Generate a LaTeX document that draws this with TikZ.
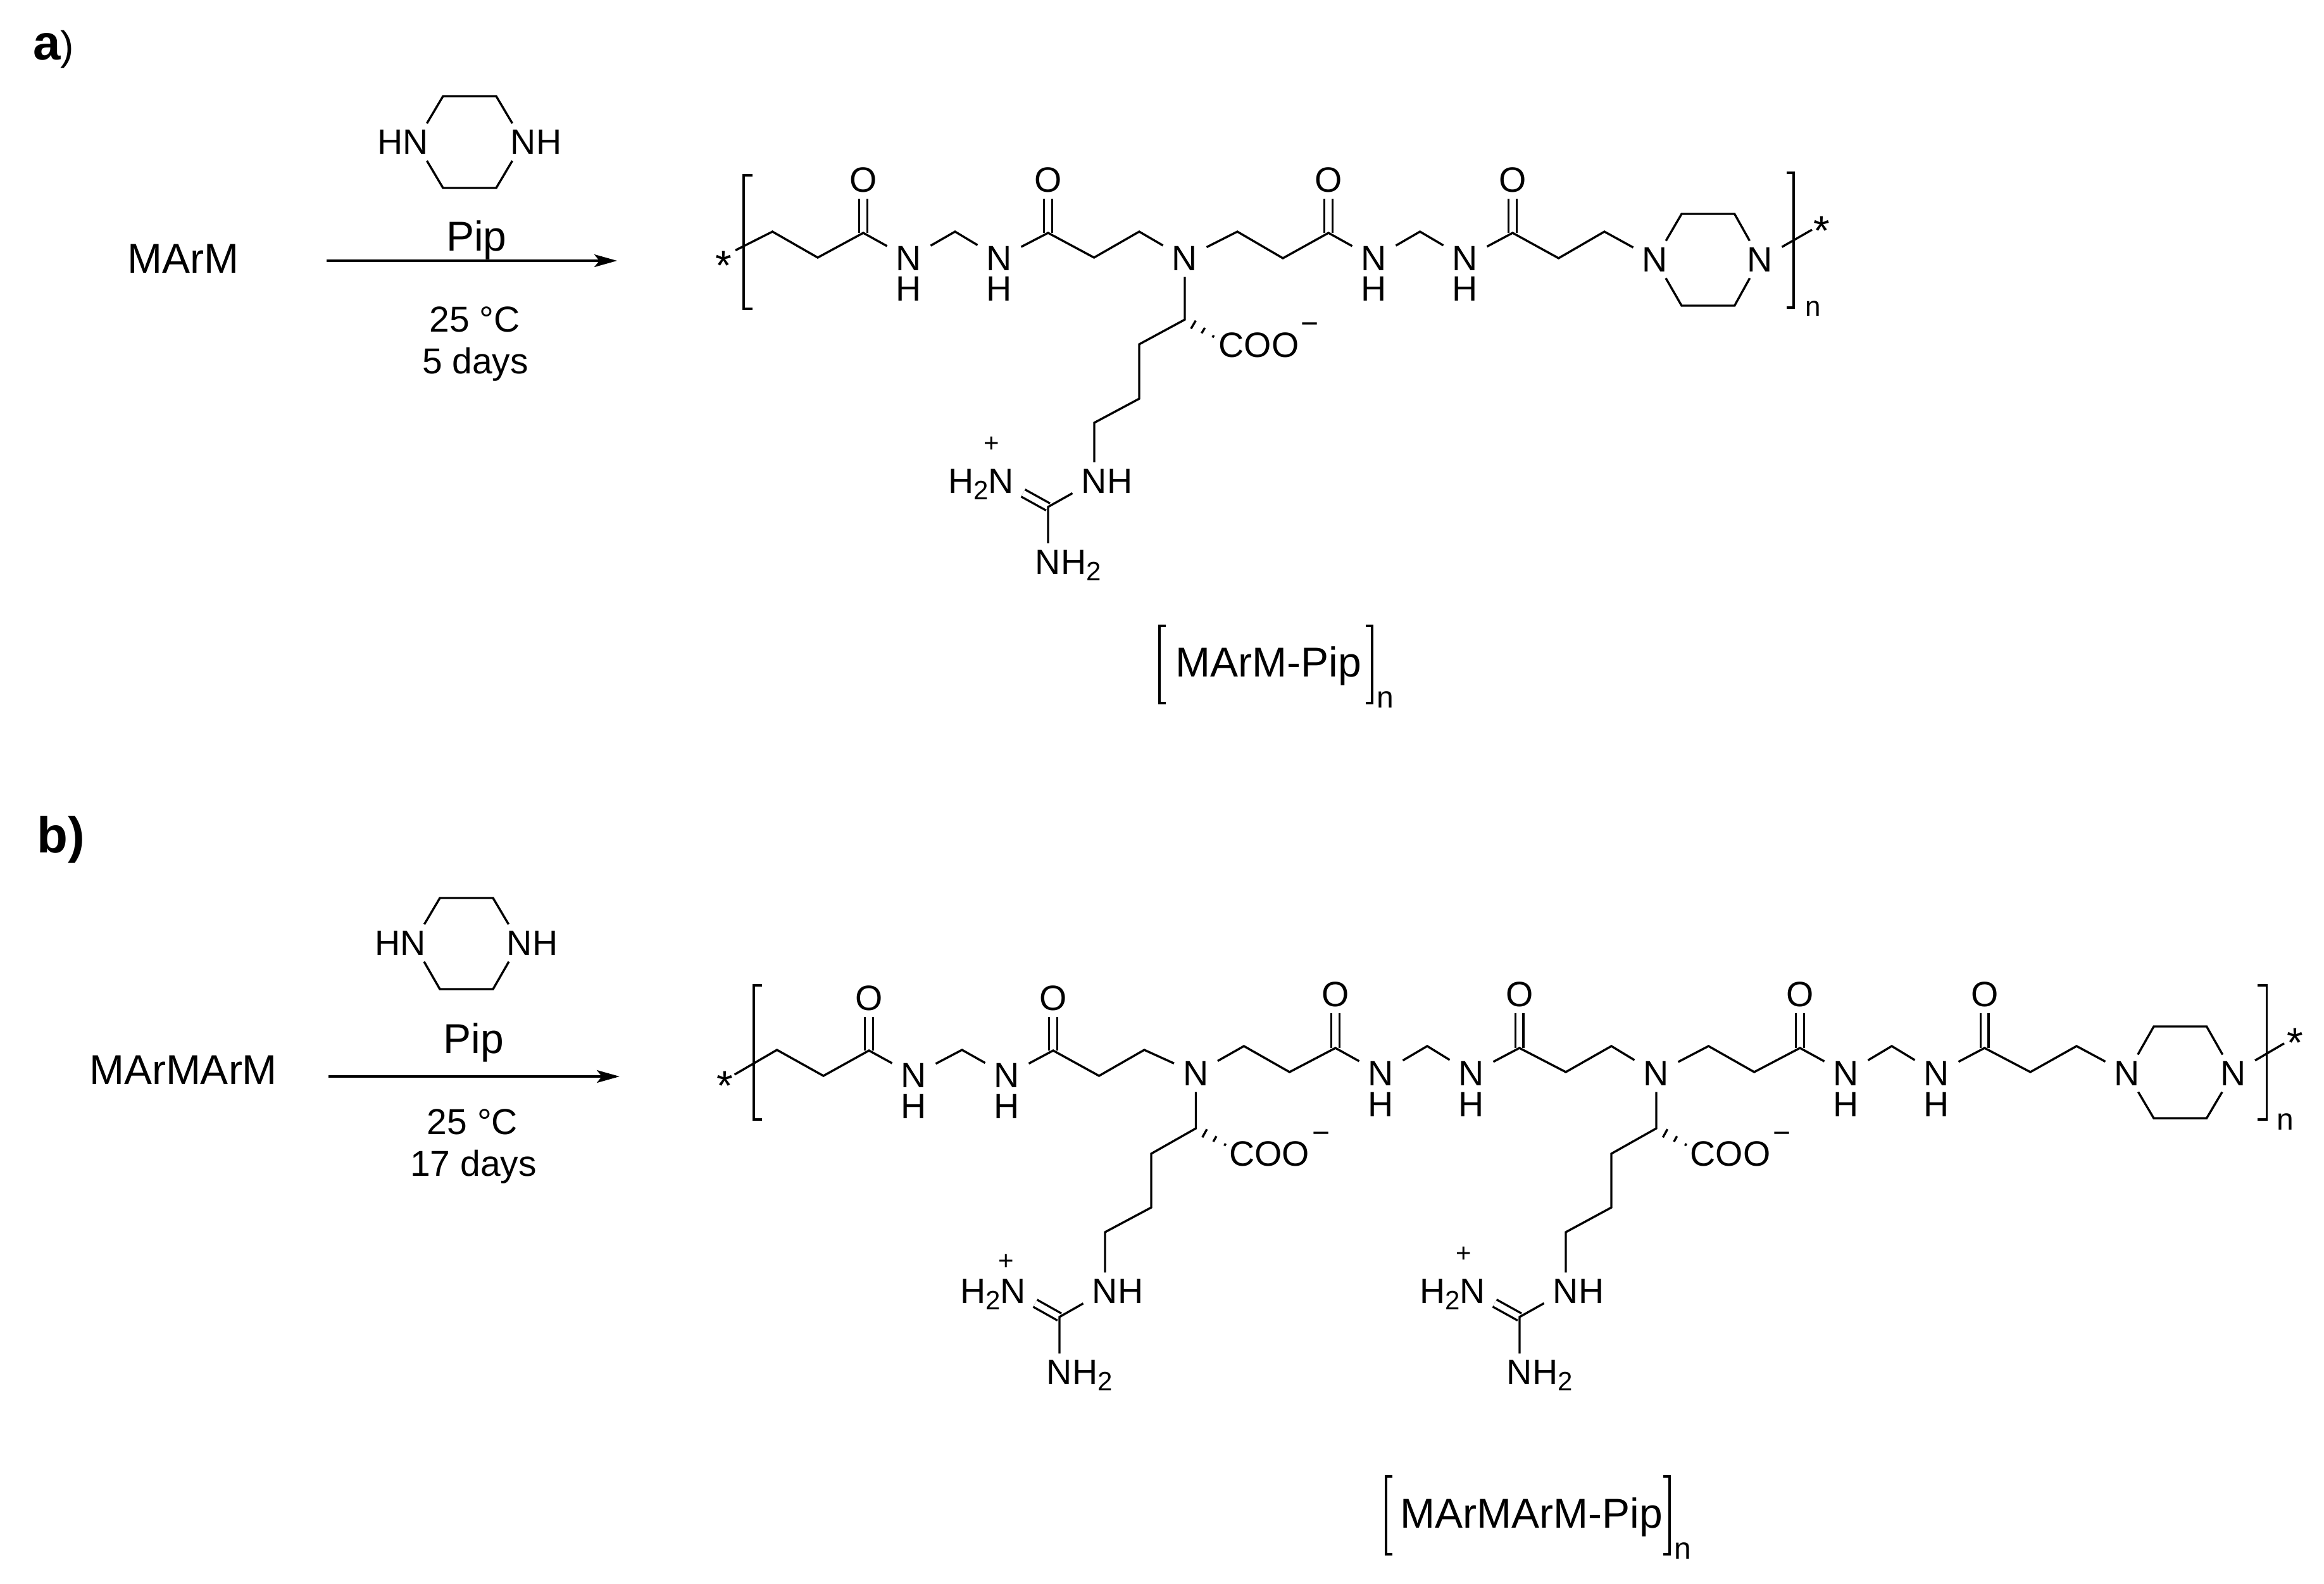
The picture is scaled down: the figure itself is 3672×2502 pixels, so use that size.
\documentclass[tikz,border=0pt]{standalone}
\usepackage{fontspec}
\setmainfont{Liberation Sans}
\usetikzlibrary{arrows.meta,calc}
\newcommand{\fsz}[1]{\fontsize{#1}{#1}\selectfont}
\newcommand{\subtwo}{\raisebox{-5pt}{\fsz{21}2}}
\newcommand{\Nhh}{N\smash{\rlap{H\subtwo}}}
\newcommand{\hhN}{\smash{\llap{H\subtwo}}N}
\newcommand{\Nh}{N\rlap{H}}
\newcommand{\hN}{\llap{H}N}
\newcommand{\hashbond}[2]{\foreach \hp/\hl in {.25/3.7pt,.54/2.5pt,.83/1pt}{\coordinate (hm) at ($(#1)!\hp!(#2)$); \draw[bond] ($(hm)!\hl!90:(#2)$) -- ($(hm)!\hl!-90:(#2)$);}}
\tikzset{
  x=0.5pt,y=-0.5pt,
  bond/.style={line width=1.7pt,line join=miter},
  dbond/.style={line width=1.7pt,double,double distance=4.6pt},
  brk/.style={line width=1.7pt},
  capbrk/.style={line width=2.1pt},
  atom/.style={font=\fsz{27.8},inner xsep=7pt,inner ysep=5pt},
  lbl/.style={inner sep=0pt,anchor=base},
  mainlbl/.style={lbl,font=\fsz{33}},
  condlbl/.style={lbl,font=\fsz{28.5}},
  captxt/.style={lbl,font=\fsz{33}},
  idxlbl/.style={lbl,font=\fsz{22}},
  starlbl/.style={lbl,font=\fsz{33}},
  plusc/.style={lbl,font=\fsz{21}},
  minusc/.style={lbl,font=\fsz{24}},
  coolbl/.style={font=\fsz{27.8},inner sep=0pt},
  rxn/.style={line width=1.7pt,-{Stealth[length=18pt,width=10pt,inset=4pt]}},
}
\begin{document}
\begin{tikzpicture}
\useasboundingbox (0,0) rectangle (3672,2502);
\fill[white] (0,0) rectangle (3672,2502);
% ---------- panel labels
\node[lbl,anchor=base west] (la) at (52,94) {{\fsz{39}\bfseries a}{\fsz{32})}};
\node[lbl,anchor=base west] (lb) at (58,1347) {\fsz{40}\bfseries b)};
% ---------- reaction a
\node[mainlbl] (marm) at (289,431) {MArM};
\node[atom] (pa1) at (657,224.5) {\hN};
\node[atom] (pa2) at (827,224.5) {\Nh};
\coordinate (pat1) at (700,152); \coordinate (pat2) at (784,152);
\coordinate (pab1) at (700,297); \coordinate (pab2) at (784,297);
\draw[bond] (pa1) -- (pat1) -- (pat2) -- (pa2);
\draw[bond] (pa1) -- (pab1) -- (pab2) -- (pa2);
\node[mainlbl] (pipa) at (753,396) {Pip};
\coordinate (ra1) at (516,412); \coordinate (ra2) at (975,412);
\draw[rxn] (ra1) -- (ra2);
\node[condlbl] (ca1) at (750,524.5) {25 °C};
\node[condlbl] (ca2) at (751,590) {5 days};
% ---------- polymer a
\node[starlbl] (sa1) at (1143,442) {*};
\draw[brk] (1189,277) -- (1175,277) -- (1175,488) -- (1189,488);
\coordinate (as) at (1162,395.5);
\coordinate (a1) at (1220.5,366); \coordinate (a2) at (1292,407); \coordinate (a3) at (1364,368);
\node[atom] (ao1) at (1364,284) {O};
\node[atom] (an1) at (1436,408) {N};
\node[atom] (ah1) at (1436,456) {H};
\coordinate (a4) at (1509,366);
\node[atom] (an2) at (1579,408) {N};
\node[atom] (ah2) at (1579,456) {H};
\coordinate (a5) at (1656,368);
\node[atom] (ao2) at (1656,284) {O};
\coordinate (a6) at (1728.6,407); \coordinate (a7) at (1800,366);
\node[atom] (an3) at (1872,408) {N};
\coordinate (a8) at (1955,366); \coordinate (a9) at (2027,408); \coordinate (a10) at (2099,368);
\node[atom] (ao3) at (2099,284) {O};
\node[atom] (an4) at (2171,408) {N};
\node[atom] (ah4) at (2171,456) {H};
\coordinate (a11) at (2243.6,366);
\node[atom] (an5) at (2315,408) {N};
\node[atom] (ah5) at (2315,456) {H};
\coordinate (a12) at (2390,368);
\node[atom] (ao4) at (2390,284) {O};
\coordinate (a13) at (2462.6,408); \coordinate (a14) at (2535,366);
\node[atom] (an6) at (2615,410) {N};
\coordinate (ar1) at (2657,338); \coordinate (ar2) at (2740.6,338);
\coordinate (ar3) at (2740.6,483); \coordinate (ar4) at (2657,483);
\node[atom] (an7) at (2781,410) {N};
\coordinate (ae) at (2863,363);
\node[starlbl] (sa2) at (2878,387) {*};
\draw[brk] (2823,273) -- (2834,273) -- (2834,486) -- (2823,486);
\node[idxlbl] (na) at (2864.5,499) {n};
\foreach \cc/\oo in {a3/ao1,a5/ao2,a10/ao3,a12/ao4}{\draw[dbond] (\cc) -- (\oo);}
\draw[bond] (as) -- (a1) -- (a2) -- (a3) -- (an1) -- (a4) -- (an2) -- (a5) -- (a6) -- (a7) -- (an3) -- (a8) -- (a9) -- (a10) -- (an4) -- (a11) -- (an5) -- (a12) -- (a13) -- (a14) -- (an6);
\draw[bond] (an6) -- (ar1) -- (ar2) -- (an7);
\draw[bond] (an6) -- (ar4) -- (ar3) -- (an7);
\draw[bond] (an7) -- (ae);
% side chain a
\coordinate (as1) at (1872,505); \coordinate (as2) at (1800,544); \coordinate (as3) at (1800,630); \coordinate (as4) at (1729,668);
\node[atom] (ag1) at (1729,760) {\Nh};
\coordinate (agc) at (1656,801);
\node[atom] (ag2) at (1582,760) {\hhN};
\node[atom] (ag3) at (1656,888) {\Nhh};
\node[plusc] (pla) at (1567,714) {+};
\node[coolbl] (cooa) at (1989,545) {COO};
\node[minusc] (mia) at (2069,527) {−};
\coordinate (awa) at (1926,537);
\hashbond{as1}{awa}
\draw[dbond] (agc) -- (ag2);
\draw[bond] (an3) -- (as1) -- (as2) -- (as3) -- (as4) -- (ag1) -- (agc) -- (ag3);
% caption a
\draw[capbrk] (1842,989) -- (1832,989) -- (1832,1111) -- (1842,1111);
\node[captxt] (capa) at (2004.5,1069) {MArM-Pip};
\draw[capbrk] (2158,989) -- (2168,989) -- (2168,1111) -- (2158,1111);
\node[lbl,font=\fsz{24}] (nca) at (2188.5,1118) {n};
% ---------- reaction b
\node[mainlbl] (marm2) at (289.5,1713) {MArMArM};
\node[atom] (pb1) at (653,1490) {\hN};
\node[atom] (pb2) at (821,1490) {\Nh};
\coordinate (pbt1) at (695,1419); \coordinate (pbt2) at (779,1419);
\coordinate (pbb1) at (695,1563); \coordinate (pbb2) at (779,1563);
\draw[bond] (pb1) -- (pbt1) -- (pbt2) -- (pb2);
\draw[bond] (pb1) -- (pbb1) -- (pbb2) -- (pb2);
\node[mainlbl] (pipb) at (748.5,1664) {Pip};
\coordinate (rb1) at (519,1701); \coordinate (rb2) at (979,1701);
\draw[rxn] (rb1) -- (rb2);
\node[condlbl] (cb1) at (746.5,1792) {25 °C};
\node[condlbl] (cb2) at (748,1858.5) {17 days};
% ---------- polymer b
\node[starlbl] (sb1) at (1145,1738) {*};
\draw[brk] (1204,1557) -- (1191,1557) -- (1191,1769) -- (1204,1769);
\coordinate (bs) at (1160.6,1698);
\coordinate (b1) at (1227.6,1659); \coordinate (b2) at (1301,1700); \coordinate (b3) at (1373,1660);
\node[atom] (bo1) at (1373,1577) {O};
\node[atom] (bn1) at (1444,1699) {N};
\node[atom] (bh1) at (1444,1748) {H};
\coordinate (b4) at (1520,1659);
\node[atom] (bn2) at (1591,1699) {N};
\node[atom] (bh2) at (1591,1748) {H};
\coordinate (b5) at (1664,1660);
\node[atom] (bo2) at (1664,1577) {O};
\coordinate (b6) at (1736.5,1700); \coordinate (b7) at (1808,1659);
\node[atom] (bn3) at (1889.5,1696) {N};
\coordinate (b8) at (1965.4,1653); \coordinate (b9) at (2037.5,1694); \coordinate (b10) at (2110,1656);
\node[atom] (bo3) at (2110,1571) {O};
\node[atom] (bn4) at (2182,1696) {N};
\node[atom] (bh4) at (2182,1745) {H};
\coordinate (b11) at (2255,1653);
\node[atom] (bn5) at (2325,1696) {N};
\node[atom] (bh5) at (2325,1745) {H};
\coordinate (b12) at (2400.7,1656);
\node[atom] (bo4) at (2400.7,1571) {O};
\coordinate (b13) at (2474,1694); \coordinate (b14) at (2546,1653);
\node[atom] (bn6) at (2617,1696) {N};
\coordinate (b15) at (2699.5,1653); \coordinate (b16) at (2771.7,1694); \coordinate (b17) at (2844,1656);
\node[atom] (bo5) at (2844,1571) {O};
\node[atom] (bn7) at (2917,1696) {N};
\node[atom] (bh7) at (2917,1745) {H};
\coordinate (b18) at (2989,1653);
\node[atom] (bn8) at (3060,1696) {N};
\node[atom] (bh8) at (3060,1745) {H};
\coordinate (b19) at (3135.6,1656);
\node[atom] (bo6) at (3135.6,1571) {O};
\coordinate (b20) at (3208,1694); \coordinate (b21) at (3281,1653);
\node[atom] (bn9) at (3361,1696) {N};
\coordinate (br1) at (3403,1622); \coordinate (br2) at (3486.5,1622);
\coordinate (br3) at (3486.5,1767); \coordinate (br4) at (3403,1767);
\node[atom] (bn10) at (3528.5,1696) {N};
\coordinate (be) at (3609,1648.7);
\node[starlbl] (sb2) at (3625.8,1670) {*};
\draw[brk] (3567,1557) -- (3581.7,1557) -- (3581.7,1769) -- (3567,1769);
\node[lbl,font=\fsz{24}] (nb) at (3611,1785.5) {n};
\foreach \cc/\oo in {b3/bo1,b5/bo2,b10/bo3,b12/bo4,b17/bo5,b19/bo6}{\draw[dbond] (\cc) -- (\oo);}
\draw[bond] (bs) -- (b1) -- (b2) -- (b3) -- (bn1) -- (b4) -- (bn2) -- (b5) -- (b6) -- (b7) -- (bn3) -- (b8) -- (b9) -- (b10) -- (bn4) -- (b11) -- (bn5) -- (b12) -- (b13) -- (b14) -- (bn6) -- (b15) -- (b16) -- (b17) -- (bn7) -- (b18) -- (bn8) -- (b19) -- (b20) -- (b21) -- (bn9);
\draw[bond] (bn9) -- (br1) -- (br2) -- (bn10);
\draw[bond] (bn9) -- (br4) -- (br3) -- (bn10);
\draw[bond] (bn10) -- (be);
% side chain b1
\coordinate (bs1) at (1889.5,1783); \coordinate (bs2) at (1819,1823); \coordinate (bs3) at (1819,1908); \coordinate (bs4) at (1746,1947);
\node[atom] (bg1) at (1746,2040) {\Nh};
\coordinate (bgc) at (1674,2081);
\node[atom] (bg2) at (1601,2040) {\hhN};
\node[atom] (bg3) at (1674,2168) {\Nhh};
\node[plusc] (plb) at (1590,2006) {+};
\node[coolbl] (coob) at (2005.5,1823) {COO};
\node[minusc] (mib) at (2087,1806) {−};
\coordinate (bwa) at (1945,1814);
\hashbond{bs1}{bwa}
\draw[dbond] (bgc) -- (bg2);
\draw[bond] (bn3) -- (bs1) -- (bs2) -- (bs3) -- (bs4) -- (bg1) -- (bgc) -- (bg3);
% side chain b2
\coordinate (cs1) at (2617,1783); \coordinate (cs2) at (2546,1823); \coordinate (cs3) at (2546,1908); \coordinate (cs4) at (2474,1947);
\node[atom] (cg1) at (2474,2040) {\Nh};
\coordinate (cgc) at (2401,2081);
\node[atom] (cg2) at (2327,2040) {\hhN};
\node[atom] (cg3) at (2401,2168) {\Nhh};
\node[plusc] (plc) at (2312.5,1994) {+};
\node[coolbl] (cooc) at (2734,1823) {COO};
\node[minusc] (mic) at (2815,1806) {−};
\coordinate (cwa) at (2673,1814);
\hashbond{cs1}{cwa}
\draw[dbond] (cgc) -- (cg2);
\draw[bond] (bn6) -- (cs1) -- (cs2) -- (cs3) -- (cs4) -- (cg1) -- (cgc) -- (cg3);
% caption b
\draw[capbrk] (2200,2333) -- (2190,2333) -- (2190,2456) -- (2200,2456);
\node[captxt] (capb) at (2420,2414) {MArMArM-Pip};
\draw[capbrk] (2628,2333) -- (2638,2333) -- (2638,2456) -- (2628,2456);
\node[lbl,font=\fsz{24}] (ncb) at (2658.5,2463) {n};
\end{tikzpicture}
\end{document}
